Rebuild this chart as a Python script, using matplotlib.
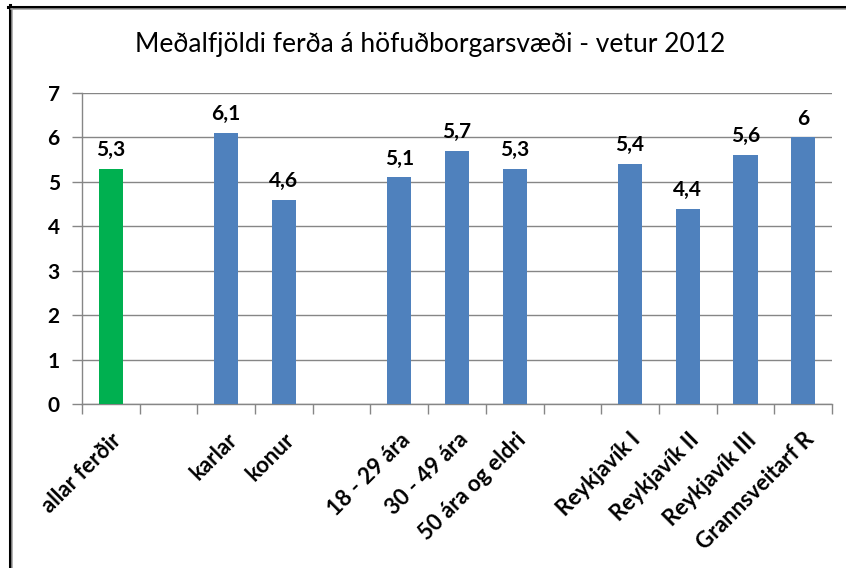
import matplotlib.pyplot as plt
import numpy as np
from matplotlib.lines import Line2D

plt.rcParams['font.family'] = ['Lato', 'DejaVu Sans']

labels = ['allar ferðir', '', 'karlar', 'konur', '', '18 - 29 ára', '30 - 49 ára',
          '50 ára og eldri', '', 'Reykjavík I', 'Reykjavík II', 'Reykjavík III',
          'Grannsveitarf R']
values = [5.3, np.nan, 6.1, 4.6, np.nan, 5.1, 5.7, 5.3, np.nan, 5.4, 4.4, 5.6, 6.0]
colors = ['#00B050', None, '#4F81BD', '#4F81BD', None, '#4F81BD', '#4F81BD',
          '#4F81BD', None, '#4F81BD', '#4F81BD', '#4F81BD', '#4F81BD']

fig = plt.figure(figsize=(8.46, 5.68), dpi=100)
ax = fig.add_axes([0.0969, 0.2887, 0.8865, 0.5475])

grid_c = '#868686'
x = np.arange(len(labels))
for i, v in enumerate(values):
    if np.isnan(v):
        continue
    ax.bar(x[i], v, width=0.42, color=colors[i], zorder=3)
    ax.text(x[i], v + 0.2, f'{v:g}'.replace('.', ','), ha='center', va='bottom',
            fontsize=15, fontweight='bold', color='black')

ax.set_xlim(-0.5, len(labels) - 0.5)
ax.set_ylim(0, 7)
ax.set_yticks(range(0, 8))
ax.set_yticklabels([str(t) for t in range(0, 8)], fontsize=15, fontweight='bold')
ax.yaxis.grid(True, color=grid_c, linewidth=1)
ax.set_axisbelow(True)

ax.set_xticks(np.arange(-0.5, len(labels)), minor=False)
ax.set_xticklabels([])
ax.set_xticks(x, minor=True)
ax.set_xticklabels(labels, minor=True, rotation=45, ha='right',
                   rotation_mode='anchor', fontsize=16, fontweight='bold')
ax.tick_params(axis='x', which='major', length=7, color=grid_c, width=1)
ax.tick_params(axis='x', which='minor', length=0, pad=18)
ax.tick_params(axis='y', length=7, color=grid_c, width=1, pad=9)

for s in ['top', 'right']:
    ax.spines[s].set_visible(False)
for s in ['left', 'bottom']:
    ax.spines[s].set_color(grid_c)
    ax.spines[s].set_linewidth(1)

fig.text(0.508, 0.921, 'Meðalfjöldi ferða á höfuðborgarsvæði - vetur 2012',
         ha='center', va='center', fontsize=19)

# outer frame (left and top)
fig.add_artist(Line2D([9.5 / 846, 9.5 / 846], [0, 1 - 5 / 568], transform=fig.transFigure,
                      color='black', linewidth=2.2))
fig.add_artist(Line2D([8 / 846, 1], [1 - 6.8 / 568, 1 - 6.8 / 568], transform=fig.transFigure,
                      color='black', linewidth=2.2))
fig.add_artist(Line2D([12 / 846, 12 / 846], [0, 1 - 8.5 / 568], transform=fig.transFigure,
                      color='#A0A0A0', linewidth=1.1))
fig.add_artist(Line2D([11 / 846, 1], [1 - 9.2 / 568, 1 - 9.2 / 568], transform=fig.transFigure,
                      color='#A0A0A0', linewidth=1.1))

fig.savefig('out.png', dpi=100)
